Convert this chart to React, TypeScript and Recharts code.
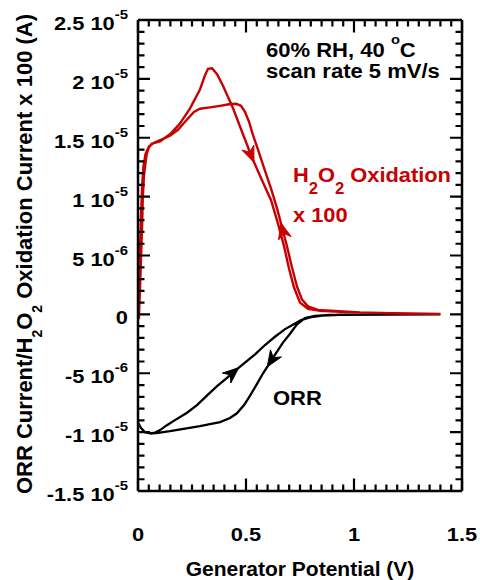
import React from 'react';
import { LineChart, Line, XAxis, YAxis, ReferenceLine } from 'recharts';

// Generator potential (V) vs current (A); H2O2 oxidation already scaled x 100
const h2o2Forward = [
  { v: 0.004, i: -0.04e-5 }, { v: 0.009, i: 0.2e-5 }, { v: 0.014, i: 0.48e-5 }, { v: 0.019, i: 0.75e-5 },
  { v: 0.022, i: 0.98e-5 }, { v: 0.028, i: 1.19e-5 }, { v: 0.04, i: 1.36e-5 }, { v: 0.051, i: 1.42e-5 },
  { v: 0.065, i: 1.45e-5 }, { v: 0.102, i: 1.47e-5 }, { v: 0.148, i: 1.53e-5 }, { v: 0.194, i: 1.62e-5 },
  { v: 0.241, i: 1.75e-5 }, { v: 0.287, i: 1.91e-5 }, { v: 0.31, i: 2.03e-5 }, { v: 0.324, i: 2.085e-5 },
  { v: 0.343, i: 2.09e-5 }, { v: 0.366, i: 2.04e-5 }, { v: 0.394, i: 1.94e-5 }, { v: 0.44, i: 1.75e-5 },
  { v: 0.486, i: 1.53e-5 }, { v: 0.528, i: 1.33e-5 }, { v: 0.574, i: 1.14e-5 }, { v: 0.616, i: 0.97e-5 },
  { v: 0.648, i: 0.77e-5 }, { v: 0.676, i: 0.58e-5 }, { v: 0.699, i: 0.39e-5 }, { v: 0.722, i: 0.23e-5 },
  { v: 0.75, i: 0.1e-5 }, { v: 0.787, i: 0.047e-5 }, { v: 0.843, i: 0.03e-5 }, { v: 0.935, i: 0.021e-5 },
  { v: 1.12, i: 0.013e-5 }, { v: 1.4, i: 0.004e-5 },
];
const h2o2Reverse = [
  { v: 1.4, i: 0.004e-5 }, { v: 1.213, i: 0.008e-5 }, { v: 1.028, i: 0.017e-5 }, { v: 0.912, i: 0.03e-5 },
  { v: 0.833, i: 0.038e-5 }, { v: 0.787, i: 0.068e-5 }, { v: 0.759, i: 0.127e-5 }, { v: 0.736, i: 0.237e-5 },
  { v: 0.713, i: 0.398e-5 }, { v: 0.69, i: 0.576e-5 }, { v: 0.667, i: 0.737e-5 }, { v: 0.644, i: 0.898e-5 },
  { v: 0.616, i: 1.068e-5 }, { v: 0.583, i: 1.246e-5 }, { v: 0.556, i: 1.398e-5 }, { v: 0.532, i: 1.525e-5 },
  { v: 0.514, i: 1.636e-5 }, { v: 0.495, i: 1.72e-5 }, { v: 0.477, i: 1.771e-5 }, { v: 0.454, i: 1.788e-5 },
  { v: 0.421, i: 1.784e-5 }, { v: 0.38, i: 1.771e-5 }, { v: 0.333, i: 1.758e-5 }, { v: 0.287, i: 1.746e-5 },
  { v: 0.259, i: 1.72e-5 }, { v: 0.222, i: 1.644e-5 }, { v: 0.185, i: 1.568e-5 }, { v: 0.148, i: 1.517e-5 },
  { v: 0.111, i: 1.487e-5 }, { v: 0.074, i: 1.458e-5 }, { v: 0.051, i: 1.428e-5 }, { v: 0.035, i: 1.364e-5 },
  { v: 0.025, i: 1.254e-5 }, { v: 0.019, i: 1.085e-5 }, { v: 0.014, i: 0.831e-5 }, { v: 0.009, i: 0.534e-5 },
  { v: 0.006, i: 0.237e-5 }, { v: 0.003, i: -0.03e-5 },
];
const orrForward = [
  { v: 0.001, i: -0.92e-5 }, { v: 0.014, i: -0.966e-5 }, { v: 0.032, i: -1.0e-5 }, { v: 0.056, i: -1.011e-5 },
  { v: 0.079, i: -1.004e-5 }, { v: 0.102, i: -0.983e-5 }, { v: 0.134, i: -0.941e-5 }, { v: 0.171, i: -0.898e-5 },
  { v: 0.227, i: -0.835e-5 }, { v: 0.273, i: -0.77e-5 }, { v: 0.319, i: -0.69e-5 }, { v: 0.366, i: -0.61e-5 },
  { v: 0.412, i: -0.54e-5 }, { v: 0.449, i: -0.48e-5 }, { v: 0.495, i: -0.41e-5 }, { v: 0.542, i: -0.34e-5 },
  { v: 0.588, i: -0.26e-5 }, { v: 0.634, i: -0.19e-5 }, { v: 0.681, i: -0.125e-5 }, { v: 0.719, i: -0.085e-5 },
  { v: 0.755, i: -0.048e-5 }, { v: 0.796, i: -0.025e-5 }, { v: 0.852, i: -0.01e-5 }, { v: 0.935, i: -0.003e-5 },
  { v: 1.4, i: 0 },
];
const orrReverse = [
  { v: 1.4, i: 0 }, { v: 0.958, i: -0.002e-5 }, { v: 0.889, i: -0.005e-5 }, { v: 0.819, i: -0.013e-5 },
  { v: 0.773, i: -0.031e-5 }, { v: 0.736, i: -0.085e-5 }, { v: 0.704, i: -0.165e-5 }, { v: 0.671, i: -0.24e-5 },
  { v: 0.639, i: -0.33e-5 }, { v: 0.611, i: -0.41e-5 }, { v: 0.579, i: -0.5e-5 }, { v: 0.551, i: -0.59e-5 },
  { v: 0.519, i: -0.69e-5 }, { v: 0.491, i: -0.77e-5 }, { v: 0.458, i: -0.84e-5 }, { v: 0.426, i: -0.88e-5 },
  { v: 0.38, i: -0.915e-5 }, { v: 0.333, i: -0.932e-5 }, { v: 0.287, i: -0.949e-5 }, { v: 0.218, i: -0.97e-5 },
  { v: 0.148, i: -0.992e-5 }, { v: 0.093, i: -1.006e-5 }, { v: 0.056, i: -1.013e-5 },
];

// potentials where the sweep-direction arrows sit on each branch
const h2o2ForwardArrows = [0.528];
const h2o2ReverseArrows = [0.667];
const orrForwardArrows = [0.449];
const orrReverseArrows = [0.611];

const xMajorTicks = [0, 0.5, 1, 1.5];
const yMajorTicks = [-1.5e-5, -1e-5, -5e-6, 0, 5e-6, 1e-5, 1.5e-5, 2e-5, 2.5e-5];
const xMinorTicks = Array.from({ length: 31 }, (_, k) => k * 0.05);
const yMinorTicks = Array.from({ length: 41 }, (_, k) => (k - 15) * 1e-6);

const X_DOMAIN = [0, 1.5];
const Y_DOMAIN = [-1.5e-5, 2.5e-5];

const CHART_W = 480;
const CHART_H = 580;
const MARGIN = { top: 20, right: 18, left: 0, bottom: 0 };
const Y_AXIS_W = 138;
const X_AXIS_H = 89;
const PLOT_LEFT = MARGIN.left + Y_AXIS_W;
const PLOT_RIGHT = CHART_W - MARGIN.right;
const PLOT_TOP = MARGIN.top;
const PLOT_BOTTOM = CHART_H - MARGIN.bottom - X_AXIS_H;

const RED = '#c80000';
const FONT = '"Liberation Sans", Arial, Helvetica, sans-serif';

const build = (fwd, rev, fwdArrows, revArrows) => [
  ...fwd.map(p => ({ ...p, arrow: fwdArrows.includes(p.v) })),
  ...rev.map(p => ({ ...p, arrow: revArrows.includes(p.v) })),
];
const h2o2Series = build(h2o2Forward, h2o2Reverse, h2o2ForwardArrows, h2o2ReverseArrows);
const orrSeries = build(orrForward, orrReverse, orrForwardArrows, orrReverseArrows);

const isYMajor = (v: number) => yMajorTicks.some(t => Math.abs(t - v) < 1e-12);
const isXMajor = (v: number) => xMajorTicks.some(t => Math.abs(t - v) < 1e-9);

// frame tick positions (same linear mapping as the chart's axes)
const tickX = (v: number) => PLOT_LEFT + ((v - X_DOMAIN[0]) / (X_DOMAIN[1] - X_DOMAIN[0])) * (PLOT_RIGHT - PLOT_LEFT);
const tickY = (i: number) => PLOT_BOTTOM - ((i - Y_DOMAIN[0]) / (Y_DOMAIN[1] - Y_DOMAIN[0])) * (PLOT_BOTTOM - PLOT_TOP);

const FrameTicks = () => {
  let d = '';
  xMinorTicks.forEach(v => {
    const x = tickX(v);
    const len = isXMajor(v) ? 12.5 : 6.5;
    d += `M${x},${PLOT_BOTTOM}V${PLOT_BOTTOM - len}M${x},${PLOT_TOP}V${PLOT_TOP + len}`;
  });
  yMinorTicks.forEach(v => {
    const y = tickY(v);
    const len = isYMajor(v) ? 12 : 6.5;
    d += `M${PLOT_LEFT},${y}H${PLOT_LEFT + len}M${PLOT_RIGHT},${y}H${PLOT_RIGHT - len}`;
  });
  return <path d={d} stroke="#000" strokeWidth={2.2} fill="none" />;
};

const arrowDot = (color: string) => (props: any) => {
  const { cx, cy, index, payload, points } = props;
  if (!payload || !payload.arrow || !points) return <g key={`d-${index}`} />;
  const a = points[Math.max(0, index - 1)];
  const b = points[Math.min(points.length - 1, index + 1)];
  let dx = b.x - a.x;
  let dy = b.y - a.y;
  const n = Math.hypot(dx, dy) || 1;
  dx /= n;
  dy /= n;
  const L = 16, W = 6.5;
  const tx = cx + dx * 5, ty = cy + dy * 5;
  const bx = tx - dx * L, by = ty - dy * L;
  const nx = tx - dx * (L - 5), ny = ty - dy * (L - 5);
  const pts = [
    [tx, ty],
    [bx - dy * W, by + dx * W],
    [nx, ny],
    [bx + dy * W, by - dx * W],
  ].map(p => p.join(',')).join(' ');
  return <polygon key={`d-${index}`} points={pts} fill={color} stroke={color} strokeWidth={1} />;
};

const YTickLabel = (props: any) => {
  const { y, payload } = props;
  const n = Math.round(payload.value * 1e6);
  let mant = '0';
  let exp = '';
  if (n !== 0) {
    if (Math.abs(n) >= 10) { mant = String(n / 10); exp = '-5'; }
    else { mant = String(n); exp = '-6'; }
  }
  return (
    <g transform={`translate(${PLOT_LEFT - 10},${y + 10}) scale(1.15,1)`}>
      <text textAnchor="end" fontSize={19} fontWeight="bold" fontFamily={FONT} fill="#000">
        {exp ? `${mant} 10` : mant}
        {exp && <tspan dy={-11} fontSize={13}>{exp}</tspan>}
      </text>
    </g>
  );
};

const XTickLabel = (props: any) => {
  const { x, payload } = props;
  return (
    <g transform={`translate(${x},${PLOT_BOTTOM + 50}) scale(1.15,1)`}>
      <text textAnchor="middle" fontSize={19} fontWeight="bold" fontFamily={FONT} fill="#000">
        {String(payload.value)}
      </text>
    </g>
  );
};

export default function App() {
  return (
    <div style={{ position: 'absolute', left: 0, top: 0, width: CHART_W, height: CHART_H, background: '#fff' }}>
      <LineChart width={CHART_W} height={CHART_H} margin={MARGIN}>
        <XAxis
          type="number"
          dataKey="v"
          domain={X_DOMAIN}
          ticks={xMajorTicks}
          interval={0}
          height={X_AXIS_H}
          tick={<XTickLabel />}
          tickLine={false}
          axisLine={false}
          tickSize={0}
          tickMargin={0}
          allowDataOverflow
        />
        <YAxis
          type="number"
          domain={Y_DOMAIN}
          ticks={yMajorTicks}
          interval={0}
          width={Y_AXIS_W}
          tick={<YTickLabel />}
          tickLine={false}
          axisLine={false}
          tickSize={0}
          tickMargin={0}
          allowDataOverflow
        />
        <Line
          data={orrSeries}
          dataKey="i"
          type="linear"
          stroke="#000"
          strokeWidth={2.3}
          dot={arrowDot('#000')}
          activeDot={false}
          isAnimationActive={false}
        />
        <Line
          data={h2o2Series}
          dataKey="i"
          type="linear"
          stroke={RED}
          strokeWidth={2.4}
          dot={arrowDot(RED)}
          activeDot={false}
          isAnimationActive={false}
        />
        <ReferenceLine y={Y_DOMAIN[0]} stroke="#000" strokeWidth={2.5} />
        <ReferenceLine y={Y_DOMAIN[1]} stroke="#000" strokeWidth={2.5} />
        <ReferenceLine x={X_DOMAIN[0]} stroke="#000" strokeWidth={2.5} />
        <ReferenceLine x={X_DOMAIN[1]} stroke="#000" strokeWidth={2.5} />
      </LineChart>
      <svg
        width={CHART_W}
        height={CHART_H}
        style={{ position: 'absolute', left: 0, top: 0, pointerEvents: 'none' }}
        fontFamily={FONT}
        fontWeight="bold"
      >
        <FrameTicks />
        <text transform="translate(31.7,254) rotate(-90)" textAnchor="middle" fontSize={22} fill="#000">
          ORR Current/H<tspan dy={10} fontSize={14}>2</tspan><tspan dy={-10} fontSize={22}>O</tspan><tspan dy={10} fontSize={14}>2</tspan><tspan dy={-10} fontSize={22}> Oxidation Current x 100 (A)</tspan>
        </text>
        <text x={300} y={576} textAnchor="middle" fontSize={21} fill="#000">Generator Potential (V)</text>
        <g transform="translate(266,57.3) scale(1.13,1)">
          <text fontSize={19.5} fill="#000">60% RH, 40 <tspan dy={-13} fontSize={13}>o</tspan><tspan dy={13} fontSize={19.5}>C</tspan></text>
        </g>
        <g transform="translate(266,78.3) scale(1.13,1)">
          <text fontSize={19.5} fill="#000">scan rate 5 mV/s</text>
        </g>
        <g transform="translate(293,181.7) scale(1.04,1)">
          <text fontSize={21} fill={RED}>H<tspan dy={12} fontSize={16}>2</tspan><tspan dy={-12} fontSize={21}>O</tspan><tspan dy={12} fontSize={16}>2</tspan><tspan dy={-12} fontSize={21}> Oxidation</tspan></text>
        </g>
        <g transform="translate(293,221.7) scale(1.04,1)">
          <text fontSize={21} fill={RED}>x 100</text>
        </g>
        <g transform="translate(273,405) scale(1.1,1)">
          <text fontSize={20} fill="#000">ORR</text>
        </g>
      </svg>
    </div>
  );
}
